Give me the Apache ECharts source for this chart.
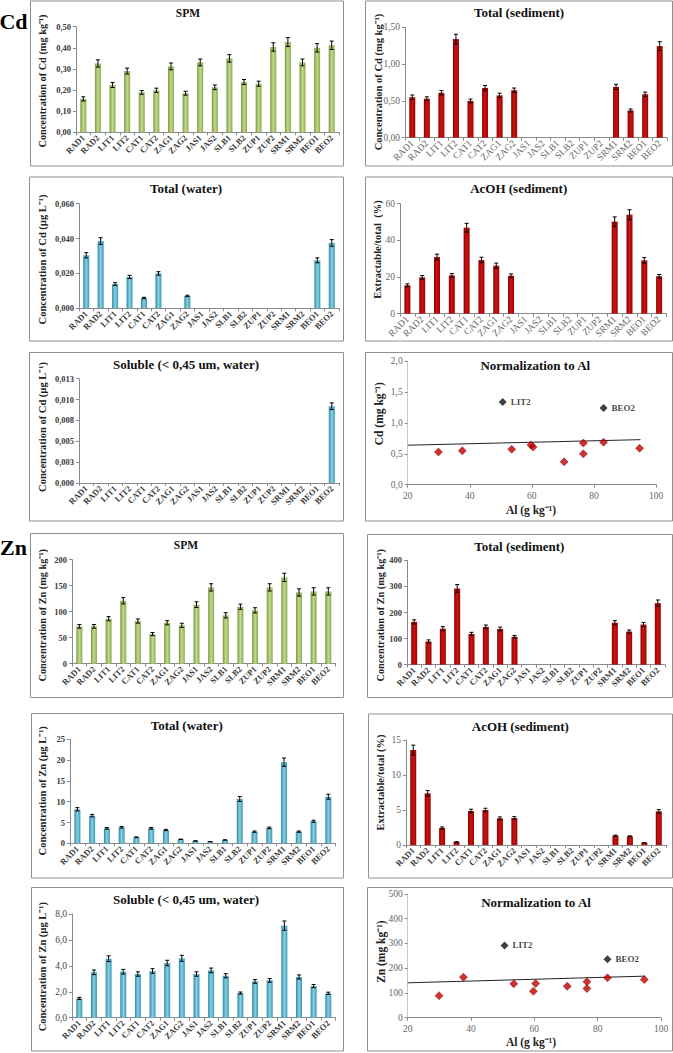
<!DOCTYPE html>
<html><head><meta charset="utf-8">
<script src="https://cdn.jsdelivr.net/npm/echarts@6/dist/echarts.min.js"></script>
<style>html,body{margin:0;padding:0;background:#fff}#c{width:673px;height:1053px}</style>
</head><body><div id="c"></div>
<script>
// ---------- DATA ----------
const sites = ['RAD1','RAD2','LIT1','LIT2','CAT1','CAT2','ZAG1','ZAG2','JAS1','JAS2','SLB1','SLB2','ZUP1','ZUP2','SRM1','SRM2','BEO1','BEO2'];

// Cd
const cdSPM      = [0.158,0.326,0.224,0.290,0.189,0.199,0.312,0.185,0.331,0.213,0.350,0.238,0.230,0.404,0.427,0.331,0.400,0.412];
const cdSPMErr   = [0.010,0.017,0.012,0.014,0.009,0.010,0.016,0.009,0.016,0.011,0.018,0.012,0.012,0.020,0.021,0.016,0.020,0.020];
const cdSed      = [0.55,0.53,0.61,1.34,0.50,0.675,0.575,0.645,null,null,null,null,null,null,0.69,0.37,0.59,1.245];
const cdSedErr   = [0.03,0.025,0.03,0.065,0.025,0.035,0.03,0.03,null,null,null,null,null,null,0.035,0.02,0.03,0.06];
const cdWater    = [0.0304,0.0386,0.0139,0.0180,0.0059,0.0200,null,0.0071,null,null,null,null,null,null,null,null,0.0275,0.0375];
const cdWaterErr = [0.0015,0.0019,0.0008,0.0009,0.0004,0.0010,null,0.0004,null,null,null,null,null,null,null,null,0.0014,0.0019];
const cdAcOH     = [15.5,19.8,30.9,20.9,46.9,29.3,26.2,20.7,null,null,null,null,null,null,50.2,54.0,29.1,20.4];
const cdAcOHErr  = [0.8,1.0,1.6,1.0,2.4,1.5,1.4,1.0,null,null,null,null,null,null,2.6,2.7,1.5,1.0];
const cdSol      = [null,null,null,null,null,null,null,null,null,null,null,null,null,null,null,null,null,0.0092];
const cdSolErr   = [null,null,null,null,null,null,null,null,null,null,null,null,null,null,null,null,null,0.0004];
const cdSolTicks = ['0,000','0,003','0,005','0,008','0,010','0,013'];

// Zn
const znSPM      = [71.8,71.8,86.5,121,82,57,78.8,73.7,113.5,146.8,93,109.6,102.6,146.8,166,137,139,139];
const znSPMErr   = [3.5,3.5,4,6,4,3,4,4,5.5,7,5,5,5,7,8,7,7,7];
const znSed      = [164,89,138,292,118,145,137,107,null,null,null,null,null,null,161,127,154,236];
const znSedErr   = [8,6,8,15,6,7,7,5,null,null,null,null,null,null,8,6,8,12];
const znWater    = [8.17,6.65,3.6,3.85,1.44,3.6,3.2,0.96,0.56,0.4,0.8,10.66,2.8,3.7,19.5,2.8,5.3,11.2];
const znWaterErr = [0.4,0.3,0.2,0.2,0.1,0.2,0.15,0.05,0.05,0.03,0.05,0.6,0.15,0.2,1.0,0.15,0.25,0.6];
const znAcOH     = [13.57,7.38,2.43,0.43,4.86,5.0,3.81,3.86,null,null,null,null,null,null,1.33,1.24,0.33,4.81];
const znAcOHErr  = [0.7,0.4,0.15,0.05,0.25,0.25,0.2,0.2,null,null,null,null,null,null,0.08,0.07,0.03,0.25];
const znSol      = [1.49,3.5,4.55,3.55,3.37,3.6,4.22,4.58,3.37,3.65,3.24,1.9,2.8,2.88,7.1,3.14,2.44,1.88];
const znSolErr   = [0.08,0.18,0.22,0.18,0.17,0.18,0.21,0.23,0.17,0.18,0.16,0.08,0.14,0.14,0.36,0.16,0.12,0.09];

// Normalization to Al (sediment samples)
const sedSites   = ['RAD1','RAD2','LIT1','LIT2','CAT1','CAT2','ZAG1','ZAG2','SRM1','SRM2','BEO1','BEO2'];
const sedAl      = [37.6,29.9,60.4,50.6,76.6,76.6,53.5,59.7,83.1,70.4,94.7,83.1];
const outliers   = ['LIT2','BEO2'];
const cdTrend    = [[20,0.64],[95,0.73]];
const znTrend    = [[20,141],[95,168]];

// ---------- STYLES ----------
const FONT = '"Liberation Serif","Times New Roman",serif';
function grad(a,b,c){return new echarts.graphic.LinearGradient(0,0,1,0,[{offset:0,color:a},{offset:0.5,color:b},{offset:1,color:c}]);}
const GREEN = grad('#7A993C','#C4DA8F','#8CA94E');
const RED   = grad('#8E0000','#CC1414','#9E0000');
const BLUE  = grad('#2B8AA5','#8AD0E3','#3898B3');
const BOLD  = {fontFamily:FONT,fontWeight:'bold',fontSize:8.5,color:'#3a3a3a'};
const REG   = {fontFamily:FONT,fontWeight:'normal',fontSize:9.5,color:'#666'};
const REGD  = {fontFamily:FONT,fontWeight:'normal',fontSize:9.5,color:'#444'};
function fmt(d){return v=>v.toFixed(d).replace('.',',');}

// ---------- PANELS ----------
const panels = [
 {kind:'bar',box:[30.5,1,343.5,166],title:'SPM',tx:188,ty:12.5,ts:11.5,yName:'Concentration of Cd (mg kg⁻¹)',yx:42.7,yy:81,ys:10.3,
  grid:{left:76,top:26.7,width:263,height:105.6},data:cdSPM,err:cdSPMErr,color:GREEN,max:0.5,interval:0.1,fmt:fmt(2),tick:BOLD,xl:BOLD},
 {kind:'bar',box:[365.5,1,672.5,166],title:'Total (sediment)',tx:519,ty:12.7,ts:13,yName:'Concentration of Cd (mg kg⁻¹)',yx:378,yy:82,ys:10.5,
  grid:{left:405,top:27.3,width:262,height:110.4},data:cdSed,err:cdSedErr,color:RED,max:1.5,interval:0.5,fmt:fmt(2),tick:REG,xl:REG},
 {kind:'bar',box:[29.5,177,343.5,341],title:'Total (water)',tx:186,ty:188.7,ts:13,yName:'Concentration of Cd (µg L⁻¹)',yx:42.7,yy:259.5,ys:10.5,
  grid:{left:79,top:203.7,width:260,height:104.6},data:cdWater,err:cdWaterErr,color:BLUE,max:0.06,interval:0.02,fmt:fmt(3),tick:BOLD,xl:BOLD},
 {kind:'bar',box:[365.5,177,672.5,341],title:'AcOH (sediment)',tx:518.7,ty:188.7,ts:13,yName:'Extractable/total  (%)',yx:377.7,yy:249.5,ys:10.5,
  grid:{left:400,top:203.7,width:266.5,height:110},data:cdAcOH,err:cdAcOHErr,color:RED,max:60,interval:20,fmt:fmt(0),tick:REG,xl:REG},
 {kind:'bar',box:[29.5,352.5,343.5,521],title:'Soluble (< 0,45 um, water)',tx:186,ty:364.3,ts:13,yName:'Concentration of Cd (µg L⁻¹)',yx:42.7,yy:427,ys:10.5,
  grid:{left:79,top:378.7,width:260,height:104.3},data:cdSol,err:cdSolErr,color:BLUE,max:0.0125,interval:0.0025,fmt:v=>cdSolTicks[Math.round(v/0.0025)],tick:BOLD,xl:BOLD},
 {kind:'norm',box:[365.5,352.5,672.5,521],title:'Normalization to Al',tx:535.3,ty:365.3,ts:13,yName:'Cd (mg kg⁻¹)',yx:378.7,yy:413.7,ys:11.5,xName:'Al (g kg⁻¹)',xx:531,xy:510,
  grid:{left:407.7,top:361.3,width:248.3,height:123.4},vals:cdSed,trend:cdTrend,max:2,interval:0.5,fmt:fmt(1),tick:REG},
 {kind:'bar',box:[30.5,533.5,343.5,697.5],title:'SPM',tx:186,ty:545.3,ts:11.5,yName:'Concentration of Zn (mg kg⁻¹)',yx:42.7,yy:615.3,ys:10.3,
  grid:{left:72,top:559.7,width:263.6,height:104},data:znSPM,err:znSPMErr,color:GREEN,max:200,interval:50,fmt:fmt(0),tick:BOLD,xl:BOLD},
 {kind:'bar',box:[367.5,534.5,672.5,697.5],title:'Total (sediment)',tx:519.3,ty:546,ts:13,yName:'Concentration of Zn (mg kg⁻¹)',yx:380,yy:615.3,ys:10.3,
  grid:{left:407,top:560.3,width:258,height:104.4},data:znSed,err:znSedErr,color:RED,max:400,interval:100,fmt:fmt(0),tick:BOLD,xl:BOLD},
 {kind:'bar',box:[31.5,713.5,343.5,878],title:'Total (water)',tx:186.7,ty:725,ts:13,yName:'Concentration of Zn (µg L⁻¹)',yx:42.7,yy:790.8,ys:10.5,
  grid:{left:70,top:739.3,width:265.7,height:104},data:znWater,err:znWaterErr,color:BLUE,max:25,interval:5,fmt:fmt(0),tick:BOLD,xl:BOLD},
 {kind:'bar',box:[368.5,714,672.5,878],title:'AcOH (sediment)',tx:520.3,ty:726.7,ts:13,yName:'Extractable/total (%)',yx:380,yy:782.5,ys:10.5,
  grid:{left:406,top:740,width:260,height:105},data:znAcOH,err:znAcOHErr,color:RED,max:15,interval:5,fmt:fmt(0),tick:REG,xl:BOLD},
 {kind:'bar',box:[31.5,887.5,343.5,1051],title:'Soluble (< 0,45 um, water)',tx:186,ty:899,ts:13,yName:'Concentration of Zn (µg L⁻¹)',yx:42.7,yy:966.7,ys:10.5,
  grid:{left:72,top:914,width:263.6,height:103.7},data:znSol,err:znSolErr,color:BLUE,max:8,interval:2,fmt:fmt(1),tick:REGD,xl:BOLD},
 {kind:'norm',box:[367.5,887.5,672.5,1051],title:'Normalization to Al',tx:536,ty:902.3,ts:13,yName:'Zn (mg kg⁻¹)',yx:381,yy:951.7,ys:11.5,xName:'Al (g kg⁻¹)',xx:531,xy:1042,
  grid:{left:407.7,top:894,width:253.3,height:123.7},vals:znSed,trend:znTrend,max:500,interval:100,fmt:fmt(0),tick:REG}
];

// ---------- BUILD ----------
const grids=[],xAxes=[],yAxes=[],series=[],graphics=[];
const AXC='#8a8a8a';
function errRender(params, api){
  const i=api.value(0),v=api.value(1),e=api.value(2);
  const hi=api.coord([i,v+e]),lo=api.coord([i,v-e]);const w=2;
  const st={stroke:'#000',lineWidth:1};
  return {type:'group',children:[
    {type:'line',shape:{x1:hi[0],y1:hi[1],x2:lo[0],y2:lo[1]},style:st},
    {type:'line',shape:{x1:hi[0]-w,y1:hi[1],x2:hi[0]+w,y2:hi[1]},style:st},
    {type:'line',shape:{x1:lo[0]-w,y1:lo[1],x2:lo[0]+w,y2:lo[1]},style:st}]};
}
function txt(x,y,text,size,opts){
  opts=opts||{};
  return {type:'text',x:x,y:y,rotation:opts.rot||0,silent:true,z:100,
    style:{text:text,fill:opts.color||'#000',font:(opts.weight||'bold')+' '+size+'px '+FONT,textAlign:'center',textVerticalAlign:'middle'}};
}
graphics.push(txt(13.5,21,'Cd',22,{}));
graphics.push(txt(13.5,547,'Zn',22,{}));

panels.forEach((p,k)=>{
  const b=p.box;
  graphics.push({type:'rect',shape:{x:b[0],y:b[1],width:b[2]-b[0],height:b[3]-b[1]},style:{fill:null,stroke:'#8f8f8f',lineWidth:1},silent:true,z:1});
  graphics.push(txt(p.tx,p.ty,p.title,p.ts,{color:'#111'}));
  graphics.push(txt(p.yx,p.yy,p.yName,p.ys,{rot:Math.PI/2,color:'#222'}));
  if(p.xName) graphics.push(txt(p.xx,p.xy,p.xName,p.ys,{color:'#222'}));
  grids.push(Object.assign({containLabel:false,outerBoundsMode:'none'},p.grid));
  const yAxis={type:'value',gridIndex:k,min:0,max:p.max,interval:p.interval,
    axisLine:{show:true,lineStyle:{color:AXC}},axisTick:{show:true,length:3,lineStyle:{color:AXC}},splitLine:{show:false},
    axisLabel:Object.assign({formatter:p.fmt,margin:5},p.tick)};
  if(p.kind==='bar'){
    xAxes.push({type:'category',gridIndex:k,data:sites,boundaryGap:true,
      axisLine:{show:true,lineStyle:{color:AXC}},axisTick:{show:true,length:3,lineStyle:{color:AXC}},
      axisLabel:Object.assign({interval:0,rotate:45,margin:4},p.xl)});
    yAxes.push(yAxis);
    series.push({type:'bar',xAxisIndex:k,yAxisIndex:k,data:p.data,barWidth:6,itemStyle:{color:p.color},silent:true});
    const ed=[];p.data.forEach((v,i)=>{if(v!=null&&p.err[i]!=null)ed.push([i,v,p.err[i]]);});
    series.push({type:'custom',xAxisIndex:k,yAxisIndex:k,data:ed,renderItem:errRender,encode:{x:0,y:1},silent:true,z:5});
  } else {
    xAxes.push({type:'value',gridIndex:k,min:20,max:100,interval:20,
      axisLine:{show:true,onZero:false,lineStyle:{color:AXC}},axisTick:{show:true,length:3,lineStyle:{color:AXC}},splitLine:{show:false},
      axisLabel:Object.assign({margin:6},REG)});
    yAxis.axisLine={show:true,lineStyle:{color:'#c8c8c8'}};
    yAxes.push(yAxis);
    const red=[],blk=[];
    sedSites.forEach((s,j)=>{const v=p.vals[sites.indexOf(s)];const pt=[sedAl[j],v,s];(outliers.includes(s)?blk:red).push(pt);});
    series.push({type:'line',xAxisIndex:k,yAxisIndex:k,data:p.trend,showSymbol:false,symbol:'none',lineStyle:{color:'#222',width:1},silent:true,z:2});
    series.push({type:'scatter',xAxisIndex:k,yAxisIndex:k,data:red,symbol:'diamond',symbolSize:8,itemStyle:{color:'#C00000',borderColor:'#7a0000',borderWidth:0.6},silent:true,z:3});
    series.push({type:'scatter',xAxisIndex:k,yAxisIndex:k,data:blk,symbol:'diamond',symbolSize:8,itemStyle:{color:'#111'},silent:true,z:3,
      label:{show:true,position:'right',distance:4,formatter:q=>q.value[2],fontFamily:FONT,fontWeight:'bold',fontSize:9,color:'#111'}});
  }
});

const chart=echarts.init(document.getElementById('c'),null,{renderer:'svg'});
chart.setOption({animation:false,backgroundColor:'#fff',grid:grids,xAxis:xAxes,yAxis:yAxes,series:series,graphic:graphics});
</script></body></html>
